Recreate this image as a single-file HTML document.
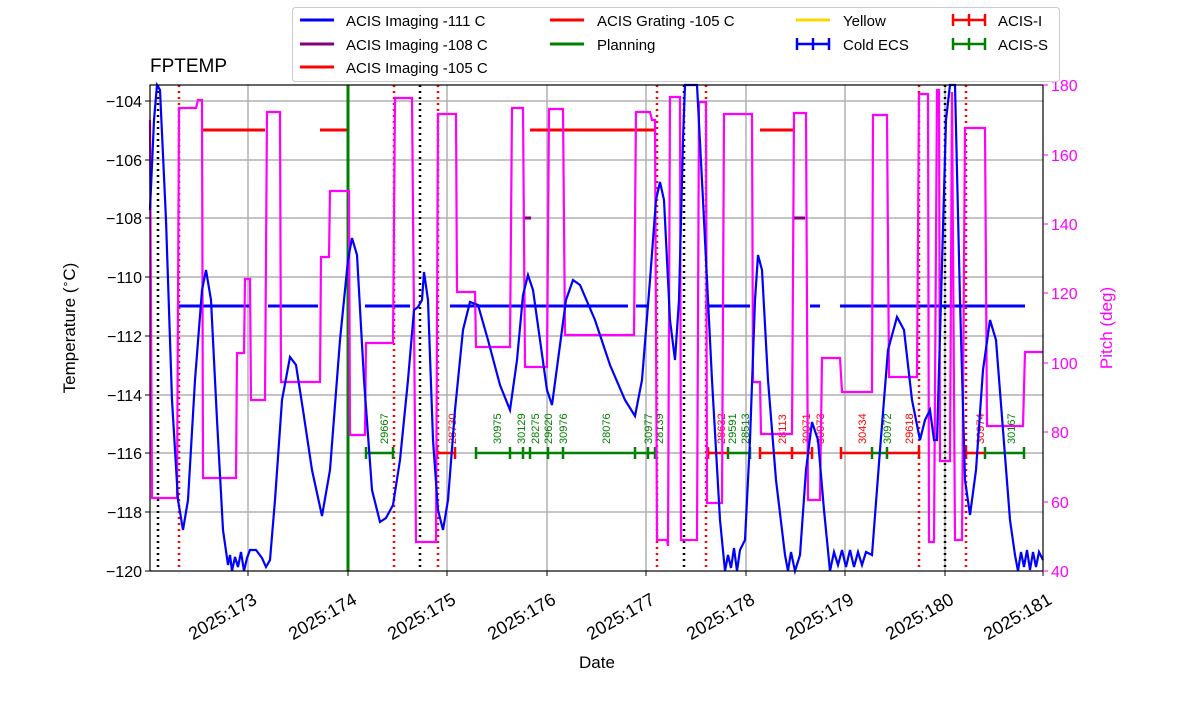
<!DOCTYPE html><html><head><style>body{margin:0;background:#fff}svg{font-family:"Liberation Sans","DejaVu Sans",sans-serif}</style></head><body>
<svg width="1200" height="714" xmlns="http://www.w3.org/2000/svg">
<g stroke="#b0b0b0" stroke-width="1.5">
<line x1="248" y1="85" x2="248" y2="571"/><line x1="348" y1="85" x2="348" y2="571"/><line x1="447" y1="85" x2="447" y2="571"/><line x1="547" y1="85" x2="547" y2="571"/><line x1="646" y1="85" x2="646" y2="571"/><line x1="746" y1="85" x2="746" y2="571"/><line x1="845" y1="85" x2="845" y2="571"/><line x1="945" y1="85" x2="945" y2="571"/>
<line x1="150" y1="101" x2="1043" y2="101"/><line x1="150" y1="160" x2="1043" y2="160"/><line x1="150" y1="218" x2="1043" y2="218"/><line x1="150" y1="277" x2="1043" y2="277"/><line x1="150" y1="336" x2="1043" y2="336"/><line x1="150" y1="395" x2="1043" y2="395"/><line x1="150" y1="453" x2="1043" y2="453"/><line x1="150" y1="512" x2="1043" y2="512"/>
</g>
<g fill="none" stroke-width="3">
<g stroke="#0000ff"><path d="M177 306H250M268 306H318M365 306H410M450 306H628M636 306H648M705 306H750M810 306H820M840 306H1025"/></g>
<path stroke="#ff0000" d="M202 130H265M320 130H348M530 130H655M760 130H793"/>
<path stroke="#800080" d="M524 218H531M793 218H805"/>
</g>
<line x1="348" y1="85" x2="348" y2="571" stroke="#008000" stroke-width="3"/>
<g stroke="#000" stroke-width="2.5" stroke-dasharray="2,4"><line x1="158" y1="85" x2="158" y2="571"/><line x1="420" y1="85" x2="420" y2="571"/><line x1="684" y1="85" x2="684" y2="571"/><line x1="945" y1="85" x2="945" y2="571"/></g>
<g stroke="#ff0000" stroke-width="2.5" stroke-dasharray="2,4"><line x1="179" y1="85" x2="179" y2="571"/><line x1="394" y1="85" x2="394" y2="571"/><line x1="438" y1="85" x2="438" y2="571"/><line x1="657" y1="85" x2="657" y2="571"/><line x1="706" y1="85" x2="706" y2="571"/><line x1="919" y1="85" x2="919" y2="571"/><line x1="966" y1="85" x2="966" y2="571"/></g>
<g stroke-width="2.5">
<path stroke="#008000" d="M366 453H393M476 453H655M728 453H750M872 453H887M985 453H1024M366 447v12M393 447v12M476 447v12M510 447v12M523 447v12M530 447v12M548 447v12M563 447v12M635 447v12M648 447v12M655 447v12M728 447v12M750 447v12M872 447v12M887 447v12M985 447v12M1024 447v12"/>
<path stroke="#ff0000" d="M437 453H455M708 453H728M760 453H812M841 453H872M887 453H919M966 453H985M437 447v12M455 447v12M708 447v12M760 447v12M792 447v12M812 447v12M841 447v12M919 447v12M966 447v12"/>
</g>
<g font-size="11">
<g fill="#008000"><text transform="translate(388,444) rotate(-90)">29667</text><text transform="translate(501,444) rotate(-90)">30975</text><text transform="translate(525,444) rotate(-90)">30129</text><text transform="translate(539,444) rotate(-90)">28275</text><text transform="translate(552,444) rotate(-90)">29620</text><text transform="translate(567,444) rotate(-90)">30976</text><text transform="translate(610,444) rotate(-90)">28076</text><text transform="translate(652,444) rotate(-90)">30977</text><text transform="translate(663,444) rotate(-90)">28139</text><text transform="translate(736,444) rotate(-90)">29591</text><text transform="translate(749,444) rotate(-90)">28513</text><text transform="translate(891,444) rotate(-90)">30972</text><text transform="translate(1015,444) rotate(-90)">30167</text></g>
<g fill="#ff0000"><text transform="translate(456,444) rotate(-90)">28730</text><text transform="translate(725,444) rotate(-90)">28632</text><text transform="translate(786,444) rotate(-90)">28113</text><text transform="translate(810,444) rotate(-90)">30071</text><text transform="translate(824,444) rotate(-90)">30073</text><text transform="translate(866,444) rotate(-90)">30434</text><text transform="translate(913,444) rotate(-90)">29618</text><text transform="translate(984,444) rotate(-90)">30974</text></g>
</g>
<polyline fill="none" stroke="#ff00ff" stroke-width="2.2" points="150,120 152,498 177,498 179,108 196,108 198,100 202,100 203,478 236,478 237,353 244,353 245,279 250,279 251,400 265,400 267,112 280,112 281,382 320,382 321,257 329,257 330,191 349,191 350,435 365,435 366,343 393,343 395,98 410,98 412,98 416,542 436,542 438,114 456,114 457,292 475,292 476,347 510,347 512,108 523,108 525,367 547,367 549,109 563,109 565,335 634,335 636,112 650,112 652,120 655,120 657,540 667,540 668,546 670,97 680,97 681,540 697,540 699,102 706,102 707,503 722,503 724,114 752,114 753,382 760,382 761,434 792,434 794,113 806,113 808,500 820,500 822,358 840,358 842,392 872,392 873,115 887,115 889,377 917,377 919,94 928,94 929,542 934,542 937,90 939,90 940,461 950,461 952,92 955,540 962,540 965,128 985,128 987,426 1023,426 1025,352 1043,352"/>
<polyline fill="none" stroke="#0000ff" stroke-width="2.2" points="150,210 154,120 157,85 160,90 166,220 172,400 178,500 183,530 188,500 195,380 202,290 206,270 211,300 217,420 223,530 228,565 230,555 232,571 235,557 238,567 241,552 244,571 247,558 250,550 256,550 262,558 266,567 270,560 275,500 282,400 290,357 296,365 303,410 312,470 322,516 330,470 340,340 348,260 352,238 357,255 364,380 372,490 380,522 386,518 393,505 400,460 408,380 414,310 418,307 422,300 424,272 428,300 433,440 438,510 443,530 448,500 455,410 463,330 470,302 478,305 488,340 500,385 510,410 517,360 523,295 528,275 533,290 540,340 547,390 552,405 558,360 566,300 573,280 580,285 595,320 610,365 625,400 635,416 642,380 650,280 656,200 660,182 664,200 670,320 675,360 679,300 683,140 685,85 697,85 703,200 712,380 720,520 725,571 728,555 731,568 734,548 737,571 740,550 745,540 750,440 755,300 758,255 762,270 768,380 776,480 785,555 788,571 791,552 795,571 800,555 806,470 812,422 818,440 824,510 830,571 834,552 838,565 842,550 846,567 850,550 854,567 858,552 862,565 866,552 872,555 880,450 888,350 897,317 904,330 912,400 920,440 925,420 930,410 934,440 937,440 941,300 946,120 950,85 955,85 960,300 965,480 970,515 976,470 983,370 990,320 996,340 1003,430 1010,520 1015,555 1018,571 1021,552 1024,567 1027,550 1030,570 1033,552 1036,567 1039,552 1043,560"/>
<rect x="150" y="85" width="893" height="486" fill="none" stroke="#000" stroke-width="1.2"/>
<g stroke="#000" stroke-width="1"><path d="M248 571v5M348 571v5M447 571v5M547 571v5M646 571v5M746 571v5M845 571v5M945 571v5M1043 571v5M150 101h-5M150 160h-5M150 218h-5M150 277h-5M150 336h-5M150 395h-5M150 453h-5M150 512h-5M150 571h-5"/></g>
<g stroke="#ff00ff"><path d="M1043 85h5M1043 155h5M1043 224h5M1043 293h5M1043 363h5M1043 432h5M1043 502h5M1043 571h5"/></g>
<g font-size="16" text-anchor="end">
<text x="142" y="107">−104</text><text x="142" y="166">−106</text><text x="142" y="224">−108</text><text x="142" y="283">−110</text><text x="142" y="342">−112</text><text x="142" y="401">−114</text><text x="142" y="459">−116</text><text x="142" y="518">−118</text><text x="142" y="577">−120</text>
</g>
<g font-size="16" fill="#ff00ff"><text x="1051" y="91">180</text><text x="1051" y="161">160</text><text x="1051" y="230">140</text><text x="1051" y="299">120</text><text x="1051" y="369">100</text><text x="1051" y="438">80</text><text x="1051" y="508">60</text><text x="1051" y="577">40</text></g>
<g font-size="18" text-anchor="end">
<text transform="translate(258,603) rotate(-30)">2025:173</text><text transform="translate(358,603) rotate(-30)">2025:174</text><text transform="translate(457,603) rotate(-30)">2025:175</text><text transform="translate(557,603) rotate(-30)">2025:176</text><text transform="translate(656,603) rotate(-30)">2025:177</text><text transform="translate(756,603) rotate(-30)">2025:178</text><text transform="translate(855,603) rotate(-30)">2025:179</text><text transform="translate(955,603) rotate(-30)">2025:180</text><text transform="translate(1053,603) rotate(-30)">2025:181</text>
</g>
<text x="597" y="668" font-size="17" text-anchor="middle">Date</text>
<text transform="translate(75,328) rotate(-90)" font-size="17" text-anchor="middle">Temperature (<tspan baseline-shift="super" font-size="11">∘</tspan>C)</text>
<text transform="translate(1112,328) rotate(-90)" font-size="17" fill="#ff00ff" text-anchor="middle">Pitch (deg)</text>
<text x="150" y="72" font-size="19">FPTEMP</text>
<rect x="292.5" y="7.5" width="767" height="74" rx="3" fill="#fff" stroke="#ccc"/>
<g font-size="15">
<line x1="300" y1="20" x2="334" y2="20" stroke="#0000ff" stroke-width="3"/><text x="346" y="26">ACIS Imaging -111 C</text>
<line x1="300" y1="44" x2="334" y2="44" stroke="#800080" stroke-width="3"/><text x="346" y="50">ACIS Imaging -108 C</text>
<line x1="300" y1="67" x2="334" y2="67" stroke="#ff0000" stroke-width="3"/><text x="346" y="73">ACIS Imaging -105 C</text>
<line x1="550" y1="20" x2="584" y2="20" stroke="#ff0000" stroke-width="3"/><text x="597" y="26">ACIS Grating -105 C</text>
<line x1="550" y1="44" x2="584" y2="44" stroke="#008000" stroke-width="3"/><text x="597" y="50">Planning</text>
<line x1="796" y1="20" x2="830" y2="20" stroke="#ffd700" stroke-width="3"/><text x="843" y="26">Yellow</text>
<path d="M796 44h34M813 38v12M797 38v12M829 38v12" stroke="#0000ff" stroke-width="2.5"/><text x="843" y="50">Cold ECS</text>
<path d="M952 20h34M969 14v12M953 14v12M985 14v12" stroke="#ff0000" stroke-width="2.5"/><text x="998" y="26">ACIS-I</text>
<path d="M952 44h34M969 38v12M953 38v12M985 38v12" stroke="#008000" stroke-width="2.5"/><text x="998" y="50">ACIS-S</text>
</g>
</svg></body></html>
